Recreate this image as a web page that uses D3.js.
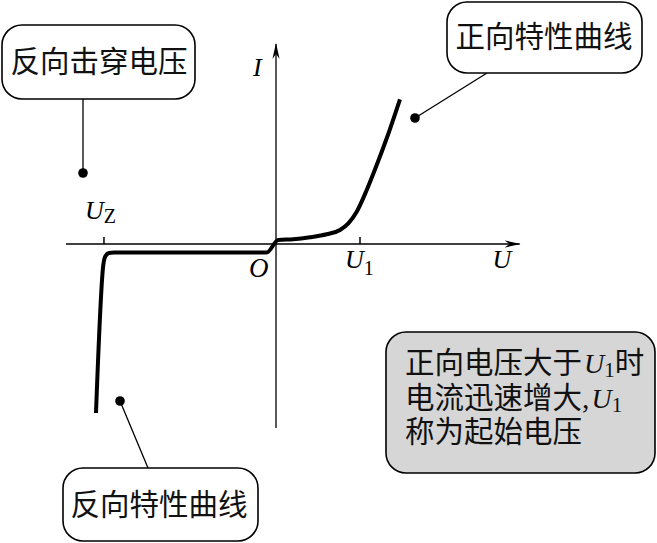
<!DOCTYPE html>
<html>
<head>
<meta charset="utf-8">
<script src="https://cdn.jsdelivr.net/npm/d3@7"></script>
<style>
  html, body { margin: 0; padding: 0; background: #fff; }
  svg { display: block; }
</style>
</head>
<body>
<div id="chart"></div>
<script>
// ---- data ----
const uPts = [-2.143, -2.056, -2.030, -1.988, -1.929, -0.111, 0.027, 0.206, 0.405, 0.604, 0.762, 0.861, 0.961, 1.080, 1.199, 1.318, 1.476];
const iPts = [-4.225, -0.525, -0.300, -0.225, -0.210, -0.210, 0.100, 0.118, 0.168, 0.243, 0.350, 0.518, 0.808, 1.350, 1.975, 2.643, 3.618];
const tickValues = [-2.048, 1];
const tickLabels = ["U", "U"];
const tickSubs = ["Z", "1"];
const calloutTexts = ["反向击穿电压", "正向特性曲线", "反向特性曲线"];
const noteLines = [["正向电压大于", "U", "1", "时"], ["电流迅速增大,", "U", "1", ""], ["称为起始电压", "", "", ""]];

const W = 657, H = 543;
const x = d3.scaleLinear().domain([-2.5, 2.9]).range([66, 519.6]);
const y = d3.scaleLinear().domain([-4.6, 5]).range([428, 44]);

const svg = d3.select("#chart").append("svg").attr("width", W).attr("height", H);
const CJK = "'Liberation Serif', 'Noto Sans CJK SC', sans-serif";
const SERIF = "'Liberation Serif', 'DejaVu Serif', serif";

// arrow marker
const defs = svg.append("defs");
defs.append("marker").attr("id", "arr")
  .attr("viewBox", "0 -5 16 10").attr("refX", 15).attr("refY", 0)
  .attr("markerWidth", 16).attr("markerHeight", 10)
  .attr("markerUnits", "userSpaceOnUse").attr("orient", "auto")
  .append("path").attr("d", "M0,-3.6 L16,0 L0,3.6 L5,0 Z").attr("fill", "#000");

// axes
svg.append("line").attr("x1", x(-2.5)).attr("x2", x(2.9)).attr("y1", y(0)).attr("y2", y(0))
  .attr("stroke", "#000").attr("stroke-width", 1.3).attr("marker-end", "url(#arr)");
svg.append("line").attr("x1", x(0)).attr("x2", x(0)).attr("y1", y(-4.6)).attr("y2", y(5))
  .attr("stroke", "#000").attr("stroke-width", 1.3).attr("marker-end", "url(#arr)");

// ticks
svg.selectAll("line.tk").data(tickValues).enter().append("line").attr("class", "tk")
  .attr("x1", d => x(d)).attr("x2", d => x(d)).attr("y1", y(0)).attr("y2", y(0) - 7)
  .attr("stroke", "#000").attr("stroke-width", 1.5);

// tick labels
const tickPos = [{dx: -19, y: 219, subDy: 4}, {dx: -15, y: 268, subDy: 7}];
tickValues.forEach((v, k) => {
  const t = svg.append("text").attr("x", x(v) + tickPos[k].dx).attr("y", tickPos[k].y)
    .attr("font-family", SERIF);
  t.append("tspan").attr("font-style", "italic").attr("font-size", 26).text(tickLabels[k]);
  t.append("tspan").attr("font-size", 20).attr("dy", tickPos[k].subDy).text(tickSubs[k]);
});

// axis names
svg.append("text").attr("x", x(0) - 23).attr("y", 76).attr("font-family", SERIF)
  .attr("font-style", "italic").attr("font-size", 26).text("I");
svg.append("text").attr("x", x(2.9) - 27).attr("y", 268).attr("font-family", SERIF)
  .attr("font-style", "italic").attr("font-size", 26).text("U");
svg.append("text").attr("x", x(0) - 27).attr("y", 277).attr("font-family", SERIF)
  .attr("font-style", "italic").attr("font-size", 27).text("O");

// characteristic curve
const pts = uPts.map((u, k) => [u, iPts[k]]);
svg.append("path").datum(pts)
  .attr("d", d3.line().x(d => x(d[0])).y(d => y(d[1])).curve(d3.curveMonotoneX))
  .attr("fill", "none").attr("stroke", "#000").attr("stroke-width", 4)
  .attr("stroke-linejoin", "round");

// callouts
const boxes = [
  {x0: 2, y0: 25, x1: 195, y1: 99, tx: 99, ty: 72, line: [83, 99, 83, 173]},
  {x0: 447, y0: 2, x1: 642, y1: 73, tx: 544, ty: 47, line: [487, 73, 415, 118]},
  {x0: 63, y0: 468, x1: 258, y1: 541, tx: 159, ty: 515, line: [148, 468, 120, 401]}
];
boxes.forEach((b, k) => {
  svg.append("line").attr("x1", b.line[0]).attr("y1", b.line[1]).attr("x2", b.line[2]).attr("y2", b.line[3])
    .attr("stroke", "#000").attr("stroke-width", 1.3);
  svg.append("circle").attr("cx", b.line[2]).attr("cy", b.line[3]).attr("r", 4.8).attr("fill", "#000");
  svg.append("rect").attr("x", b.x0).attr("y", b.y0).attr("width", b.x1 - b.x0).attr("height", b.y1 - b.y0)
    .attr("rx", 20).attr("ry", 20).attr("fill", "#fff").attr("stroke", "#000").attr("stroke-width", 1.6);
  svg.append("text").attr("x", b.tx).attr("y", b.ty).attr("text-anchor", "middle")
    .attr("font-family", CJK).attr("font-size", 29.5)
    .attr("fill", "#111").text(calloutTexts[k]);
});

// note box
svg.append("rect").attr("x", 386).attr("y", 332).attr("width", 269).attr("height", 141)
  .attr("rx", 20).attr("ry", 20).attr("fill", "#d6d6d6").attr("stroke", "#000").attr("stroke-width", 1.6);
const baseY = [373, 408, 442];
noteLines.forEach((ln, k) => {
  const t = svg.append("text").attr("x", 405).attr("y", baseY[k]).attr("fill", "#111");
  t.append("tspan").attr("font-family", CJK).attr("font-size", 29.5).text(ln[0]);
  if (ln[1]) {
    t.append("tspan").attr("font-family", SERIF).attr("font-style", "italic").attr("font-size", 28).attr("dx", 2).text(ln[1]);
    t.append("tspan").attr("font-family", SERIF).attr("font-size", 21).attr("dy", 4).text(ln[2]);
  }
  if (ln[3]) {
    t.append("tspan").attr("font-family", CJK).attr("font-size", 29.5).attr("dy", -4).text(ln[3]);
  }
});
</script>
</body>
</html>
